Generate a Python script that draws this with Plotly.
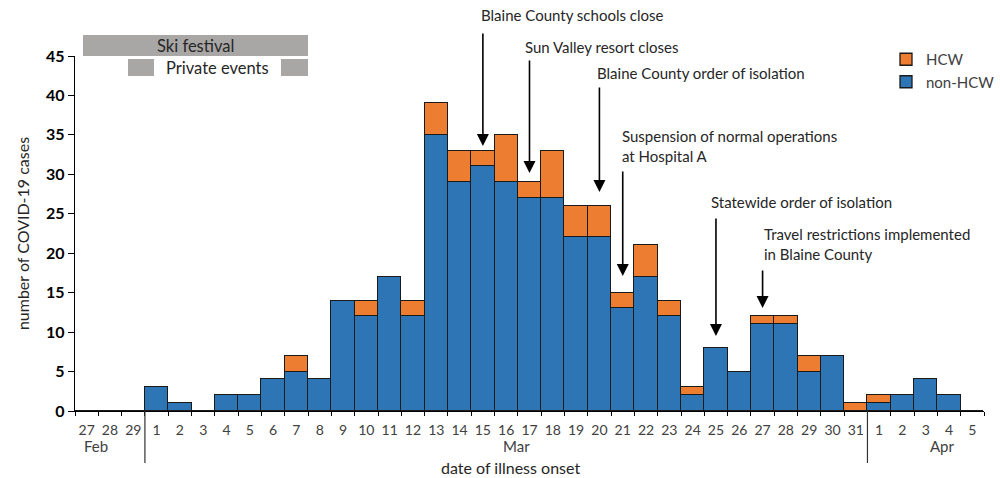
import plotly.graph_objects as go

# ---------------- data ----------------
dates = (["Feb 27", "Feb 28", "Feb 29"]
         + [f"Mar {d}" for d in range(1, 32)]
         + [f"Apr {d}" for d in range(1, 6)])
day_labels = ["27", "28", "29"] + [str(d) for d in range(1, 32)] + [str(d) for d in range(1, 6)]

non_hcw = [0, 0, 0,
           3, 1, 0, 2, 2, 4, 5, 4, 14, 12, 17, 12, 35, 29, 31, 29, 27, 27, 22, 22,
           13, 17, 12, 2, 8, 5, 11, 11, 5, 7, 0,
           1, 2, 4, 2, 0]
hcw = [0, 0, 0,
       0, 0, 0, 0, 0, 0, 2, 0, 0, 2, 0, 2, 4, 4, 2, 6, 2, 6, 4, 4,
       2, 4, 2, 1, 0, 0, 1, 1, 2, 0, 1,
       1, 0, 0, 0, 0]

events = ["Blaine County schools close", "Sun Valley resort closes",
          "Blaine County order of isolation",
          "Suspension of normal operations<br>at Hospital A",
          "Statewide order of isolation",
          "Travel restrictions implemented<br>in Blaine County"]
event_dates = ["Mar 15", "Mar 17", "Mar 20", "Mar 21", "Mar 25", "Mar 27"]

months = ["Feb", "Mar", "Apr"]

# ---------------- layout geometry ----------------
W, H = 1000, 478
ML, MR, MT, MB = 75, 16, 56, 67
PW, PH = W - ML - MR, H - MT - MB
YMAX = 45
FONT = "Lato"
BLUE, ORANGE = "#2E75B6", "#ED7D31"
GREY = "#A9A6A6"

def px_x(px):      # pixel -> paper x
    return (px - ML) / PW

def px_y(py):      # pixel -> paper y
    return (H - MB - py) / PH

def py_val(py):    # pixel -> data y
    return (H - MB - py) / PH * YMAX

idx = list(range(len(dates)))
pos = {d: i for i, d in enumerate(dates)}

fig = go.Figure()
fig.add_trace(go.Bar(x=idx, y=non_hcw, name="non-HCW", marker=dict(color=BLUE, line=dict(color="#1a1a1a", width=1.3)),
                     hovertext=dates))
fig.add_trace(go.Bar(x=idx, y=hcw, name="HCW", marker=dict(color=ORANGE, line=dict(color="#1a1a1a", width=1.3)),
                     hovertext=dates))

shapes = []
annotations = []

# month separators
for b in [pos["Mar 1"] - 0.5, pos["Apr 1"] - 0.5]:
    shapes.append(dict(type="line", xref="x", yref="paper", x0=b, x1=b, y0=0, y1=px_y(463),
                       line=dict(color="#333333", width=1.2)))

# month labels
for m, (mx, anchor) in zip(months, [(82, "left"), (516, "center"), (942, "center")]):
    annotations.append(dict(text=m, xref="paper", yref="paper", x=px_x(mx), y=px_y(446),
                            xanchor=anchor, yanchor="middle", showarrow=False,
                            font=dict(family=FONT, size=15, color="#404040")))

# x axis title
annotations.append(dict(text="date of illness onset", xref="paper", yref="paper", x=px_x(510), y=px_y(467),
                        xanchor="center", yanchor="middle", showarrow=False,
                        font=dict(family=FONT, size=16, color="#262626")))

# festival / private events boxes
shapes.append(dict(type="rect", xref="paper", yref="paper", x0=px_x(83), x1=px_x(308),
                   y0=px_y(56), y1=px_y(35), fillcolor=GREY, line=dict(width=0), layer="below"))
for a, b in [(128, 154), (281, 308)]:
    shapes.append(dict(type="rect", xref="paper", yref="paper", x0=px_x(a), x1=px_x(b),
                       y0=px_y(76), y1=px_y(59), fillcolor=GREY, line=dict(width=0), layer="below"))
annotations.append(dict(text="Ski festival", xref="paper", yref="paper", x=px_x(195), y=px_y(46),
                        xanchor="center", yanchor="middle", showarrow=False,
                        font=dict(family=FONT, size=16.5, color="#262626")))
annotations.append(dict(text="Private events", xref="paper", yref="paper", x=px_x(217), y=px_y(68),
                        xanchor="center", yanchor="middle", showarrow=False,
                        font=dict(family=FONT, size=16.5, color="#262626")))

# event annotations: (text left px, text center y px, arrow tail y px, arrow tip y px)
ev_geom = [(479, 15, 32, 146), (523, 47, 59, 173), (595, 73, 86, 192),
           (620, 145.5, 170, 276), (709, 202, 217, 336), (762, 243.5, 269, 308)]
for txt, d, (tx, ty, tail, tip) in zip(events, event_dates, ev_geom):
    annotations.append(dict(text=txt, xref="paper", yref="paper", x=px_x(tx), y=px_y(ty),
                            xanchor="left", yanchor="middle", align="left", showarrow=False,
                            font=dict(family=FONT, size=15, color="#262626")))
    annotations.append(dict(text="", xref="x", yref="y", x=pos[d], y=py_val(tip),
                            ax=0, ay=-(tip - tail), axref="pixel", ayref="pixel",
                            showarrow=True, arrowhead=2, arrowsize=1.5, arrowwidth=1.6,
                            arrowcolor="black", standoff=0, startstandoff=0))

fig.update_layout(
    width=W, height=H,
    margin=dict(l=ML, r=MR, t=MT, b=MB, autoexpand=False),
    barmode="stack", bargap=0,
    plot_bgcolor="white", paper_bgcolor="white",
    font=dict(family=FONT, size=14, color="#262626"),
    shapes=shapes, annotations=annotations,
    legend=dict(x=px_x(886), y=px_y(43), xanchor="left", yanchor="top",
                traceorder="reversed", bgcolor="rgba(0,0,0,0)",
                font=dict(family=FONT, size=15, color="#404040"),
                itemwidth=30, tracegroupgap=0),
    showlegend=True,
)
fig.update_xaxes(
    range=[-0.5, len(dates) - 0.5], tickmode="array", tickvals=idx, ticktext=day_labels,
    ticks="", showline=True, linecolor="black", linewidth=1.3, showgrid=False, zeroline=False,
    tickfont=dict(family=FONT, size=14, color="#404040"), ticklabelstandoff=6,
    minor=dict(ticks="outside", tick0=-0.5, dtick=1, ticklen=4, tickcolor="black", tickwidth=1.2, showgrid=False),
)
fig.update_yaxes(
    range=[0, YMAX], dtick=5, ticks="outside", ticklen=6, tickcolor="black", tickwidth=1.2,
    showline=True, linecolor="black", linewidth=1.3, showgrid=False, zeroline=False,
    tickfont=dict(family=FONT, size=16, color="black", weight="bold"),
    title=dict(text="number of COVID-19 cases", standoff=12, font=dict(family=FONT, size=16, color="#262626")),
)

fig.write_html("out.html", config={"displayModeBar": False},
               post_script="document.body.style.margin='0';")
